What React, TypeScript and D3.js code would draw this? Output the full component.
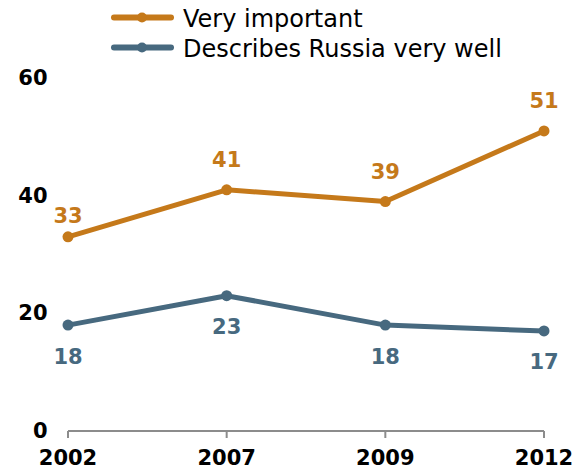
import React from "react";
import * as d3 from "d3";

const years = ["2002", "2007", "2009", "2012"];
const veryImportant = [33, 41, 39, 51];
const describesWell = [18, 23, 18, 17];
const yTicks = [0, 20, 40, 60];
const seriesNames = ["Very important", "Describes Russia very well"];

const ORANGE = "#C5791A";
const BLUE = "#47697F";
const FONT = "'DejaVu Sans', Verdana, sans-serif";

export default function App() {
  const width = 579;
  const height = 471;
  const x = d3.scalePoint<string>().domain(years).range([68, 544]);
  const y = d3.scaleLinear().domain([0, 60]).range([431, 78]);

  const line = d3
    .line<number>()
    .x((_, i) => x(years[i]) as number)
    .y((d) => y(d));

  const series = [
    { name: seriesNames[0], values: veryImportant, color: ORANGE, above: true },
    { name: seriesNames[1], values: describesWell, color: BLUE, above: false },
  ];

  return (
    <svg
      width={width}
      height={height}
      style={{ position: "absolute", left: 0, top: 0, background: "#fff" }}
    >
      {/* legend */}
      {series.map((s, i) => {
        const ly = 17.5 + i * 30;
        return (
          <g key={s.name}>
            <line x1={114} x2={171} y1={ly} y2={ly} stroke={s.color} strokeWidth={6} strokeLinecap="round" />
            <circle cx={142} cy={ly} r={5} fill={s.color} />
            <text x={183} y={ly + 9.5} fontFamily={FONT} fontSize={24} fill="#000">
              {s.name}
            </text>
          </g>
        );
      })}

      {/* y tick labels */}
      {yTicks.map((t) => (
        <text
          key={t}
          x={47.5}
          y={y(t) + 7}
          textAnchor="end"
          fontFamily={FONT}
          fontWeight="bold"
          fontSize={21}
          fill="#000"
        >
          {t}
        </text>
      ))}

      {/* x axis */}
      <line x1={x(years[0])} x2={x(years[years.length - 1])} y1={y(0)} y2={y(0)} stroke="#8c8c8c" strokeWidth={2} />
      {years.map((yr) => (
        <g key={yr}>
          <line x1={x(yr)} x2={x(yr)} y1={y(0)} y2={y(0) + 7} stroke="#8c8c8c" strokeWidth={2} />
          <text
            x={x(yr)}
            y={465}
            textAnchor="middle"
            fontFamily={FONT}
            fontWeight="bold"
            fontSize={21}
            fill="#000"
          >
            {yr}
          </text>
        </g>
      ))}

      {/* series */}
      {series.map((s) => (
        <g key={s.name}>
          <path d={line(s.values) || ""} fill="none" stroke={s.color} strokeWidth={5} strokeLinejoin="round" />
          {s.values.map((v, i) => (
            <circle key={i} cx={x(years[i])} cy={y(v)} r={5.5} fill={s.color} />
          ))}
          {s.values.map((v, i) => {
            const dy = s.above ? (i === 0 ? -14 : -23) : 38.5;
            return (
              <text
                key={"l" + i}
                x={x(years[i])}
                y={y(v) + dy}
                textAnchor="middle"
                fontFamily={FONT}
                fontWeight="bold"
                fontSize={21}
                fill={s.color}
              >
                {v}
              </text>
            );
          })}
        </g>
      ))}
    </svg>
  );
}
